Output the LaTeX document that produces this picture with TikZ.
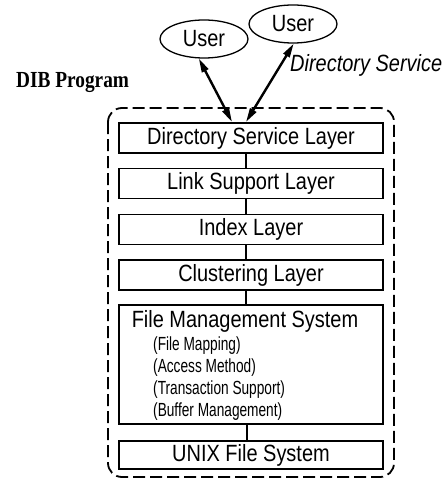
\documentclass[tikz,border=0pt]{standalone}
\usepackage{fontspec}
\setmainfont{Liberation Sans}
\newfontfamily\narrowsans[FakeStretch=0.85]{Liberation Sans}
\newfontfamily\tightsans[FakeStretch=0.72]{Liberation Sans}
\newfontfamily\narrowserif[FakeStretch=0.84]{Liberation Serif}
\usetikzlibrary{shapes.geometric,arrows.meta}

\begin{document}
\begin{tikzpicture}[x=1pt,y=-1pt,
  bigtext/.style={font=\narrowsans\fontsize{23.5}{25}\selectfont},
  subtext/.style={font=\tightsans\fontsize{19}{21}\selectfont,anchor=base west,inner sep=0pt},
  layer/.style={draw,line width=1.3pt,minimum width=264pt,minimum height=30pt,inner sep=0pt,bigtext},
  user/.style={draw,ellipse,line width=1.3pt,minimum width=88pt,minimum height=38pt,inner sep=0pt,bigtext},
  link/.style={line width=2.2pt},
  dual/.style={line width=2.4pt,{Triangle[length=14pt,width=7pt]}-{Triangle[length=14pt,width=7pt]}},
  frame/.style={line width=1.8pt,dash pattern=on 12pt off 5pt,rounded corners=14pt}]
\useasboundingbox (0,0) rectangle (447,484);

% program frame
\draw[frame] (108,108) rectangle (394,477);
\node[font=\narrowserif\bfseries\fontsize{23}{25}\selectfont,anchor=base west,inner sep=0pt] (dib) at (16,88) {DIB Program};

% layers
\node[layer] (dsl) at (251,138) {Directory Service Layer};
\node[layer] (lsl) at (251,183.5) {Link Support Layer};
\node[layer] (idx) at (251,229.5) {Index Layer};
\node[layer] (clu) at (251,275) {Clustering Layer};
\node[layer,minimum height=119pt] (fms) at (251,364.5) {};
\node[layer,minimum height=28pt] (unix) at (251,455) {UNIX File System};

\node[bigtext,anchor=base,inner sep=0pt] (fmst) at (245,327) {File Management System};
\node[subtext] (fm1) at (153,350) {(File Mapping)};
\node[subtext] (fm2) at (153,372) {(Access Method)};
\node[subtext] (fm3) at (153,394) {(Transaction Support)};
\node[subtext] (fm4) at (153,416) {(Buffer Management)};

% users
\node[user] (u1) at (204,39) {User};
\node[user] (u2) at (293,24) {User};
\node[font=\narrowsans\itshape\fontsize{23.5}{25}\selectfont,anchor=base west,inner sep=0pt] (dsv) at (290,72) {Directory Service};

% links between layers
\draw[link] ([xshift=-5pt]dsl.south) -- ([xshift=-5pt]lsl.north);
\draw[link] ([xshift=-5pt]lsl.south) -- ([xshift=-5pt]idx.north);
\draw[link] ([xshift=-5pt]idx.south) -- ([xshift=-5pt]clu.north);
\draw[link] ([xshift=-5pt]clu.south) -- ([xshift=-5pt]fms.north);
\draw[link] ([xshift=-4pt]fms.south) -- ([xshift=-4pt]unix.north);

% user access paths
\coordinate (pa) at (232,122);
\coordinate (pb) at (246,122);
\draw[dual] (pa) -- (u1.-105);
\draw[dual] (pb) -- (u2.-88);
\end{tikzpicture}
\end{document}
